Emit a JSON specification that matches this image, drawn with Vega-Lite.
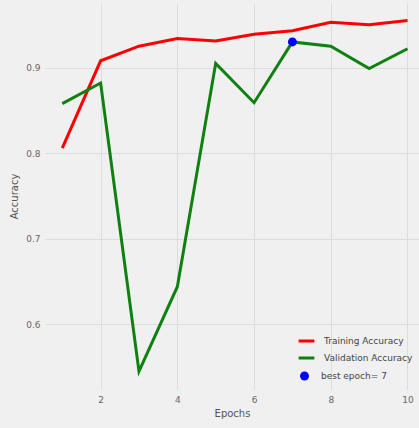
{
  "$schema": "https://vega.github.io/schema/vega-lite/v6.json",
  "width": 374,
  "height": 386,
  "autosize": {"type": "none"},
  "padding": {"left": 45, "top": 3, "right": 0, "bottom": 39},
  "background": "#f0f0f0",
  "config": {
    "font": "DejaVu Sans",
    "view": {"stroke": null, "fill": "#f0f0f0"},
    "axis": {
      "domain": false,
      "ticks": false,
      "grid": true,
      "gridColor": "#dcdcdc",
      "gridWidth": 1,
      "labelColor": "#666666",
      "labelFontSize": 9,
      "titleColor": "#555555",
      "titleFontSize": 10,
      "titleFontWeight": "normal"
    },
    "legend": {"labelFontSize": 9, "labelColor": "#444444", "padding": 0}
  },
  "datasets": {
    "acc": [
      {"epoch": 1, "accuracy": 0.806, "series": "Training Accuracy"},
      {"epoch": 2, "accuracy": 0.908, "series": "Training Accuracy"},
      {"epoch": 3, "accuracy": 0.925, "series": "Training Accuracy"},
      {"epoch": 4, "accuracy": 0.934, "series": "Training Accuracy"},
      {"epoch": 5, "accuracy": 0.931, "series": "Training Accuracy"},
      {"epoch": 6, "accuracy": 0.939, "series": "Training Accuracy"},
      {"epoch": 7, "accuracy": 0.943, "series": "Training Accuracy"},
      {"epoch": 8, "accuracy": 0.953, "series": "Training Accuracy"},
      {"epoch": 9, "accuracy": 0.950, "series": "Training Accuracy"},
      {"epoch": 10, "accuracy": 0.955, "series": "Training Accuracy"},
      {"epoch": 1, "accuracy": 0.858, "series": "Validation Accuracy"},
      {"epoch": 2, "accuracy": 0.882, "series": "Validation Accuracy"},
      {"epoch": 3, "accuracy": 0.545, "series": "Validation Accuracy"},
      {"epoch": 4, "accuracy": 0.644, "series": "Validation Accuracy"},
      {"epoch": 5, "accuracy": 0.905, "series": "Validation Accuracy"},
      {"epoch": 6, "accuracy": 0.859, "series": "Validation Accuracy"},
      {"epoch": 7, "accuracy": 0.930, "series": "Validation Accuracy"},
      {"epoch": 8, "accuracy": 0.925, "series": "Validation Accuracy"},
      {"epoch": 9, "accuracy": 0.899, "series": "Validation Accuracy"},
      {"epoch": 10, "accuracy": 0.922, "series": "Validation Accuracy"}
    ],
    "best": [
      {"epoch": 7, "accuracy": 0.930, "label": "best epoch= 7"}
    ]
  },
  "layer": [
    {
      "data": {"name": "acc"},
      "mark": {"type": "line", "strokeWidth": 3},
      "encoding": {
        "x": {
          "field": "epoch", "type": "quantitative",
          "scale": {"domain": [0.55, 10.3], "nice": false, "zero": false},
          "axis": {"values": [2, 4, 6, 8, 10], "title": "Epochs", "labelPadding": 6, "titlePadding": 4}
        },
        "y": {
          "field": "accuracy", "type": "quantitative",
          "scale": {"domain": [0.5245, 0.9755], "nice": false, "zero": false},
          "axis": {"values": [0.6, 0.7, 0.8, 0.9], "format": ".1f", "title": "Accuracy", "labelPadding": 5, "titlePadding": 6}
        },
        "color": {
          "field": "series", "type": "nominal",
          "scale": {"domain": ["Training Accuracy", "Validation Accuracy"], "range": ["#ff0000", "#108010"]},
          "legend": {
            "title": null, "orient": "none", "legendX": 252, "legendY": 331,
            "symbolType": "stroke", "symbolStrokeWidth": 3, "symbolSize": 250,
            "clipHeight": 14, "rowPadding": 3, "labelOffset": 8
          }
        }
      }
    },
    {
      "data": {"name": "best"},
      "mark": {"type": "point", "filled": true, "size": 80, "opacity": 1},
      "encoding": {
        "x": {"field": "epoch", "type": "quantitative"},
        "y": {"field": "accuracy", "type": "quantitative"},
        "fill": {
          "field": "label", "type": "nominal",
          "scale": {"range": ["#0000ff"]},
          "legend": {
            "title": null, "orient": "none", "legendX": 254, "legendY": 366,
            "symbolType": "circle", "symbolSize": 80, "symbolOpacity": 1,
            "clipHeight": 14, "labelOffset": 11
          }
        }
      }
    }
  ]
}
